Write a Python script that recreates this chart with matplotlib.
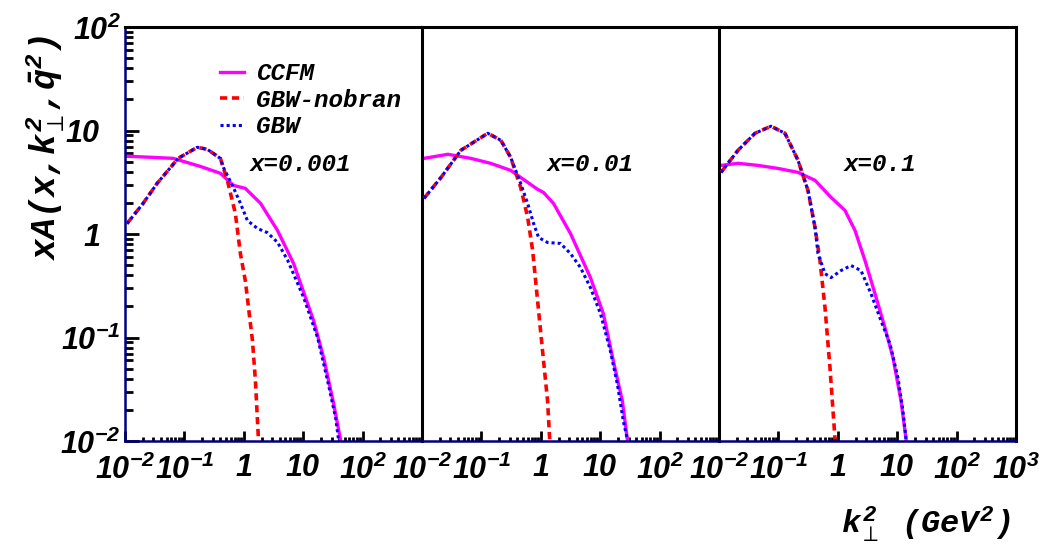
import numpy as np
import matplotlib
matplotlib.use("Agg")
import matplotlib.pyplot as plt
import matplotlib.transforms as mtransforms
from matplotlib.ticker import FixedLocator, LogLocator, NullFormatter, FuncFormatter
from matplotlib.font_manager import FontProperties

plt.rcParams['mathtext.fontset'] = 'custom'
plt.rcParams['mathtext.rm'] = 'Liberation Mono:bold:italic'
plt.rcParams['mathtext.it'] = 'Liberation Mono:bold:italic'
plt.rcParams['mathtext.bf'] = 'Liberation Mono:bold'
plt.rcParams['mathtext.sf'] = 'Liberation Sans:bold:italic'
plt.rcParams['xtick.direction'] = 'in'
plt.rcParams['ytick.direction'] = 'in'

# x = 0.001
k1_ccfm = [0.0108, 0.0297, 0.0647, 0.185, 0.403, 0.667, 1.06, 1.91, 3.70, 6.9, 15.0, 22.1, 32.6, 42.9]
v1_ccfm = [5.64, 5.5, 5.38, 4.5, 3.86, 2.95, 2.76, 1.98, 1.08, 0.518, 0.145, 0.0637, 0.0228, 0.01]
k1_nob = [0.0108, 0.0201, 0.0347, 0.0786, 0.164, 0.243, 0.403, 0.528, 0.721, 0.877, 1.06, 1.40, 1.57, 1.77]
v1_nob = [1.26, 1.97, 3.08, 5.38, 6.88, 6.58, 5.38, 3.3, 1.58, 0.647, 0.355, 0.093, 0.038, 0.01]
k1_gbw = [0.0108, 0.0201, 0.0347, 0.0786, 0.164, 0.243, 0.403, 0.452, 0.667, 0.877, 1.15, 1.70, 2.5, 3.70,
          5.45, 10.2, 17.5, 25.8, 35.2, 39.6]
v1_gbw = [1.26, 1.97, 3.08, 5.38, 6.88, 6.58, 5.38, 4.41, 2.82, 1.98, 1.35, 1.13, 1.03, 0.83,
          0.56, 0.243, 0.0995, 0.038, 0.0167, 0.01]

# x = 0.01
k2_ccfm = [0.0108, 0.0273, 0.0664, 0.144, 0.311, 0.458, 0.883, 1.11, 1.64, 3.16, 6.85, 11.3, 16.6, 23.6, 28.6]
v2_ccfm = [5.38, 5.89, 5.38, 4.81, 4.12, 3.52, 2.70, 2.52, 1.97, 1.01, 0.379, 0.170, 0.0596, 0.0244, 0.0104]
k2_nob = [0.0108, 0.0209, 0.0451, 0.128, 0.212, 0.311, 0.458, 0.601, 0.729, 0.883, 1.07, 1.30, 1.41]
v2_nob = [2.21, 3.52, 6.44, 9.4, 8.05, 5.5, 2.82, 1.45, 0.692, 0.227, 0.0744, 0.0244, 0.0104]
k2_gbw = [0.0108, 0.0209, 0.0451, 0.128, 0.212, 0.311, 0.458, 0.601, 0.757, 0.918, 1.30, 2.15, 3.16,
          4.66, 6.85, 10.1, 14.8, 19.4, 24.5, 28.6]
v2_gbw = [2.21, 3.52, 6.44, 9.4, 8.05, 5.5, 3.08, 1.97, 1.26, 0.925, 0.828, 0.81, 0.647,
          0.474, 0.303, 0.170, 0.0744, 0.0357, 0.0156, 0.0104]

# x = 0.1
k3_ccfm = [0.0108, 0.0209, 0.0454, 0.0984, 0.214, 0.413, 0.769, 1.32, 1.95, 2.87, 4.23, 6.23, 8.50, 11.6, 14.1]
v3_ccfm = [4.6, 4.82, 4.6, 4.3, 3.94, 3.3, 2.26, 1.69, 1.08, 0.554, 0.265, 0.124, 0.0637, 0.0244, 0.0104]
k3_nob = [0.0108, 0.0209, 0.0404, 0.075, 0.129, 0.214, 0.315, 0.413, 0.501, 0.609, 0.739, 0.898]
v3_nob = [3.94, 6.44, 9.4, 11.0, 9.4, 5.15, 2.63, 1.16, 0.554, 0.194, 0.0509, 0.0104]
k3_gbw = [0.0108, 0.0209, 0.0404, 0.075, 0.129, 0.214, 0.315, 0.413, 0.464, 0.609, 0.769, 1.13, 1.67,
          2.46, 3.62, 5.34, 7.57, 10.3, 12.5, 14.1]
v3_gbw = [3.94, 6.44, 9.4, 11.0, 9.4, 5.15, 2.63, 1.16, 0.647, 0.414, 0.379, 0.443, 0.496,
          0.443, 0.265, 0.145, 0.0868, 0.0407, 0.0195, 0.0104]

panel_labels = ["x=0.001", "x=0.01", "x=0.1"]
legend_names = ["CCFM", "GBW-nobran", "GBW"]
yticks = [1e-2, 1e-1, 1, 10, 100]
xticks = [1e-2, 1e-1, 1, 10, 100, 1000]

panels = [
    (k1_ccfm, v1_ccfm, k1_nob, v1_nob, k1_gbw, v1_gbw),
    (k2_ccfm, v2_ccfm, k2_nob, v2_nob, k2_gbw, v2_gbw),
    (k3_ccfm, v3_ccfm, k3_nob, v3_nob, k3_gbw, v3_gbw),
]

navy = "#000080"
txt = dict(family="Liberation Mono", weight="bold", style="italic")

def pow_label(v):
    e = int(round(np.log10(v)))
    if e == 0:
        return r"$\mathsf{1}$"
    if e == 1:
        return r"$\mathsf{10}$"
    return r"$\mathsf{10^{%d}}$" % e

def xfmt_last(v, pos):
    return pow_label(v)

def xfmt(v, pos):
    if v > 500:
        return ""
    return pow_label(v)

def yfmt(v, pos):
    # 1 and 10 are placed by hand further left (ROOT style)
    if v in (1, 10):
        return ""
    return pow_label(v)

fig = plt.figure(figsize=(10.48, 5.49), dpi=100)
L = 125 / 1048
W = 297 / 1048
B = 1 - 441 / 549
H = (441 - 27) / 549

for i, (kc, vc, kn, vn, kg, vg) in enumerate(panels):
    ax = fig.add_axes([L + i * W, B, W, H])
    ax.set_xscale("log")
    ax.set_yscale("log")
    ax.set_xlim(1e-2, 1e3)
    ax.set_ylim(1e-2, 1e2)

    l1, = ax.plot(kc, vc, color="#ff00ff", lw=2.4, zorder=2)
    l2, = ax.plot(kn, vn, color="#ff0000", lw=2.6, dashes=(2, 1.3), zorder=3)
    l3, = ax.plot(kg, vg, color="#0000ff", lw=2.2, dashes=(1, 1), zorder=4)

    ax.text(0.42, 0.667, panel_labels[i], transform=ax.transAxes, fontsize=17.5,
            va="center", ha="left", **txt)

    ax.xaxis.set_major_locator(FixedLocator(xticks))
    ax.xaxis.set_minor_locator(LogLocator(base=10, subs=np.arange(2, 10), numticks=50))
    ax.xaxis.set_minor_formatter(NullFormatter())
    ax.xaxis.set_major_formatter(FuncFormatter(xfmt_last if i == 2 else xfmt))
    ax.tick_params(axis="x", which="major", direction="in", length=7, width=2,
                   labelsize=22, pad=9, color="black")
    ax.tick_params(axis="x", which="minor", direction="in", length=3, width=2, color="black")

    for s in ["top", "right", "left", "bottom"]:
        ax.spines[s].set_linewidth(2.2)
        ax.spines[s].set_color("black")
    ax.spines["bottom"].set_color(navy)
    ax.spines["bottom"].set_linewidth(1.8)
    if i < 2:
        ax.spines["right"].set_visible(False)

    if i == 0:
        ax.spines["left"].set_color(navy)
        ax.spines["left"].set_linewidth(1.8)
        ax.yaxis.set_major_locator(FixedLocator(yticks))
        ax.yaxis.set_minor_locator(LogLocator(base=10, subs=np.arange(2, 10), numticks=50))
        ax.yaxis.set_minor_formatter(NullFormatter())
        ax.yaxis.set_major_formatter(FuncFormatter(yfmt))
        ax.tick_params(axis="y", which="major", direction="in", length=10, width=2,
                       labelsize=22, pad=3, color="black")
        ax.tick_params(axis="y", which="minor", direction="in", length=6, width=2, color="black")
        ytrans = mtransforms.blended_transform_factory(ax.transAxes, ax.transData)
        for v in (1, 10):
            ax.text(-0.083, v, pow_label(v), transform=ytrans, ha="right",
                    va="center_baseline", fontsize=22)
        ax.legend([l1, l2, l3], legend_names, loc="upper left", bbox_to_anchor=(0.32, 0.915),
                  frameon=False, prop=FontProperties(size=17.5, **txt), handlelength=1.0,
                  handletextpad=0.5, labelspacing=0.15, borderpad=0, borderaxespad=0)
    else:
        ax.tick_params(axis="y", which="both", left=False, labelleft=False)

fig.text(0.043, 1 - 35 / 549, r"$xA(x{,}k_{\perp}^{2}{,}\bar{q}^{2})$", rotation=90,
         ha="center", va="top", fontsize=25)
fig.text(0.964, 0.045, r"$k_{\perp}^{2}\ \ \ (GeV^{2})$", ha="right", va="center", fontsize=23)

fig.savefig("out.png", dpi=100)
